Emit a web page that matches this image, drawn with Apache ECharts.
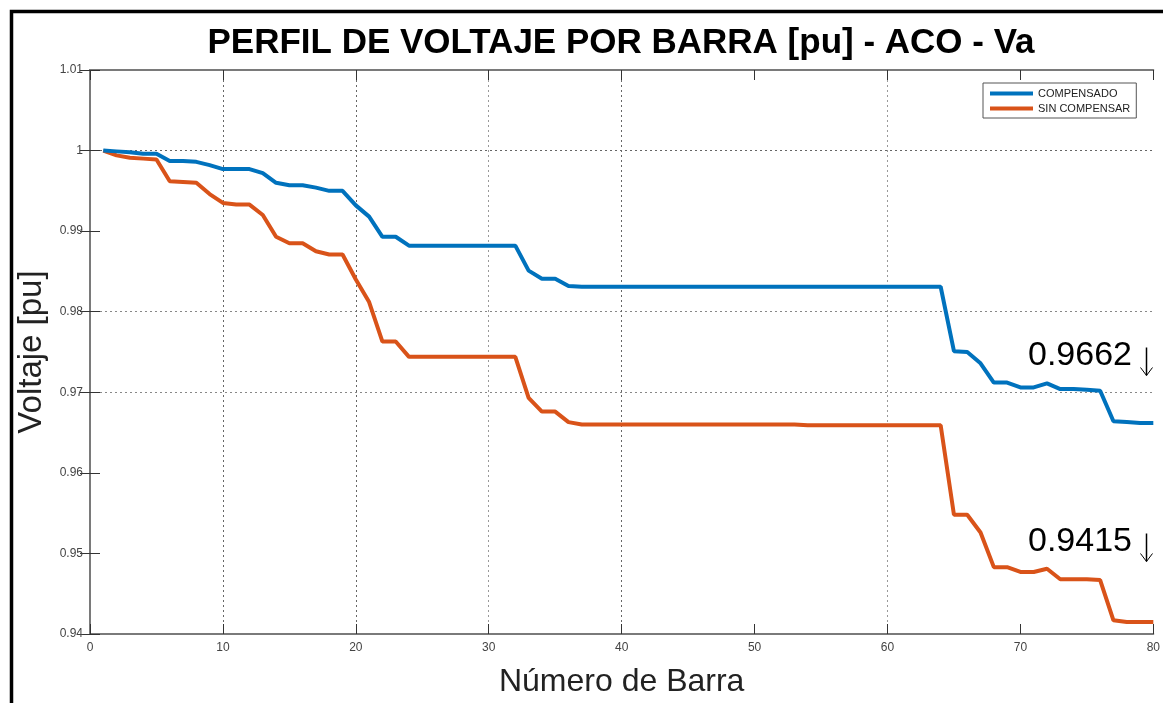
<!DOCTYPE html>
<html>
<head>
<meta charset="utf-8">
<title>Perfil de voltaje</title>
<script src="https://cdn.jsdelivr.net/npm/echarts@6/dist/echarts.min.js"></script>
<style>
  html,body{margin:0;padding:0;background:#fff;}
  #chart{width:1163px;height:703px;}
</style>
</head>
<body>
<div id="chart"></div>
<script>
  // numero de barra 1..80
  const barras = [
    1,2,3,4,5,6,7,8,9,10,11,12,13,14,15,16,17,18,19,20,
    21,22,23,24,25,26,27,28,29,30,31,32,33,34,35,36,37,38,39,40,
    41,42,43,44,45,46,47,48,49,50,51,52,53,54,55,56,57,58,59,60,
    61,62,63,64,65,66,67,68,69,70,71,72,73,74,75,76,77,78,79,80
  ];
  const compensado = [
    1.0000,0.9999,0.9998,0.9996,0.9996,0.9987,0.9987,0.9986,0.9982,0.9977,
    0.9977,0.9977,0.9972,0.9960,0.9957,0.9957,0.9954,0.9950,0.9950,0.9932,
    0.9918,0.9893,0.9893,0.9882,0.9882,0.9882,0.9882,0.9882,0.9882,0.9882,
    0.9882,0.9882,0.9851,0.9841,0.9841,0.9832,0.9831,0.9831,0.9831,0.9831,
    0.9831,0.9831,0.9831,0.9831,0.9831,0.9831,0.9831,0.9831,0.9831,0.9831,
    0.9831,0.9831,0.9831,0.9831,0.9831,0.9831,0.9831,0.9831,0.9831,0.9831,
    0.9831,0.9831,0.9831,0.9831,0.9751,0.9750,0.9736,0.9712,0.9712,0.9706,
    0.9706,0.9711,0.9704,0.9704,0.9703,0.9702,0.9664,0.9663,0.9662,0.9662
  ];
  const sinCompensar = [
    1.0000,0.9994,0.9991,0.9990,0.9989,0.9962,0.9961,0.9960,0.9946,0.9935,
    0.9933,0.9933,0.9920,0.9893,0.9885,0.9885,0.9875,0.9871,0.9871,0.9840,
    0.9812,0.9763,0.9763,0.9744,0.9744,0.9744,0.9744,0.9744,0.9744,0.9744,
    0.9744,0.9744,0.9693,0.9676,0.9676,0.9663,0.9660,0.9660,0.9660,0.9660,
    0.9660,0.9660,0.9660,0.9660,0.9660,0.9660,0.9660,0.9660,0.9660,0.9660,
    0.9660,0.9660,0.9660,0.9659,0.9659,0.9659,0.9659,0.9659,0.9659,0.9659,
    0.9659,0.9659,0.9659,0.9659,0.9548,0.9548,0.9526,0.9483,0.9483,0.9477,
    0.9477,0.9481,0.9468,0.9468,0.9468,0.9467,0.9417,0.9415,0.9415,0.9415
  ];
  const etiquetas = ['0.9662', '0.9415'];

  const pares = (ys) => barras.map((b, i) => [b, ys[i]]);

  const fuente = 'Liberation Sans, Arial, Helvetica, sans-serif';
  const grisEje = '#7a7a7a';
  const grisGrid = '#666';
  const hide = 'rgba(0,0,0,0)';

  let myChart = echarts.init(document.getElementById('chart'));
  myChart.setOption({
    animation: false,
    textStyle: { fontFamily: fuente },
    title: {
      text: 'PERFIL DE VOLTAJE POR BARRA [pu] - ACO - Va',
      left: 616,
      textAlign: 'center',
      top: 21,
      textStyle: { fontSize: 35, fontWeight: 'bold', color: '#000', fontFamily: fuente }
    },
    legend: {
      orient: 'vertical',
      left: 983,
      top: 83,
      padding: [5, 6, 4, 7],
      borderColor: '#555',
      borderWidth: 1,
      itemWidth: 43,
      itemHeight: 4,
      itemGap: 4,
      icon: 'rect',
      textStyle: { fontSize: 11, color: '#222', fontFamily: fuente },
      data: ['COMPENSADO', 'SIN COMPENSAR']
    },
    grid: { left: 90, right: 8, top: 70, bottom: 66 },
    xAxis: [
      {
        type: 'value',
        min: 0, max: 80, interval: 10,
        name: 'Número de Barra',
        nameLocation: 'middle',
        nameGap: 32,
        nameTextStyle: { fontSize: 32, color: '#222', fontFamily: fuente },
        axisLine: { lineStyle: { color: grisEje, width: 2 } },
        axisTick: { inside: true, length: 10, lineStyle: { color: '#333' } },
        axisLabel: { fontSize: 12, color: '#444', margin: 8 },
        splitLine: {
          show: true,
          lineStyle: {
            type: [2, 3],
            color: [hide, grisGrid, grisGrid, '#999', grisGrid, hide, '#999', hide, hide]
          }
        }
      },
      {
        type: 'value', position: 'top',
        min: 0, max: 80, interval: 10,
        axisLine: { lineStyle: { color: grisEje, width: 2 } },
        axisTick: { inside: true, length: 10, lineStyle: { color: '#333' } },
        axisLabel: { show: false },
        splitLine: { show: false }
      }
    ],
    yAxis: [
      {
        type: 'value',
        min: 0.94, max: 1.01, interval: 0.01,
        name: 'Voltaje [pu]',
        nameLocation: 'middle',
        nameGap: 34,
        nameTextStyle: { fontSize: 33, color: '#222', fontFamily: fuente },
        axisLine: { show: true, lineStyle: { color: grisEje, width: 2 } },
        axisTick: { show: true, inside: true, length: 10, lineStyle: { color: '#333' } },
        axisLabel: { fontSize: 12, color: '#444', margin: 7 },
        splitLine: {
          show: true,
          lineStyle: {
            type: [2, 3],
            color: [hide, hide, hide, '#888', '#888', hide, grisGrid, hide]
          }
        }
      },
      {
        type: 'value', position: 'right',
        min: 0.94, max: 1.01, interval: 0.01,
        axisLine: { show: true, lineStyle: { color: grisEje, width: 2 } },
        axisTick: { show: true, inside: true, length: 10, lineStyle: { color: '#333' } },
        axisLabel: { show: false },
        splitLine: { show: false }
      }
    ],
    series: [
      {
        name: 'COMPENSADO',
        type: 'line',
        showSymbol: false,
        lineStyle: { color: '#0072BD', width: 4 },
        itemStyle: { color: '#0072BD' },
        data: pares(compensado),
        z: 3
      },
      {
        name: 'SIN COMPENSAR',
        type: 'line',
        showSymbol: false,
        lineStyle: { color: '#D95319', width: 4 },
        itemStyle: { color: '#D95319' },
        data: pares(sinCompensar),
        z: 2
      }
    ],
    graphic: [
      {
        type: 'rect', silent: true, z: -1,
        shape: { x: 11.5, y: 11.5, width: 1175, height: 720 },
        style: { fill: 'none', stroke: '#000', lineWidth: 3.5 }
      },
      {
        type: 'text', left: 1028, top: 339,
        style: { text: etiquetas[0], fontSize: 34, fill: '#000', fontFamily: fuente }
      },
      {
        type: 'group', left: 1138, top: 345,
        children: [
          { type: 'line', shape: { x1: 7, y1: 0, x2: 7, y2: 28 }, style: { stroke: '#000', lineWidth: 1.5 } },
          { type: 'polyline', shape: { points: [[1, 20], [7, 28], [13, 20]] }, style: { stroke: '#000', lineWidth: 1, fill: 'none' } }
        ]
      },
      {
        type: 'text', left: 1028, top: 525,
        style: { text: etiquetas[1], fontSize: 34, fill: '#000', fontFamily: fuente }
      },
      {
        type: 'group', left: 1138, top: 531,
        children: [
          { type: 'line', shape: { x1: 7, y1: 0, x2: 7, y2: 28 }, style: { stroke: '#000', lineWidth: 1.5 } },
          { type: 'polyline', shape: { points: [[1, 20], [7, 28], [13, 20]] }, style: { stroke: '#000', lineWidth: 1, fill: 'none' } }
        ]
      }
    ]
  });
</script>
</body>
</html>
